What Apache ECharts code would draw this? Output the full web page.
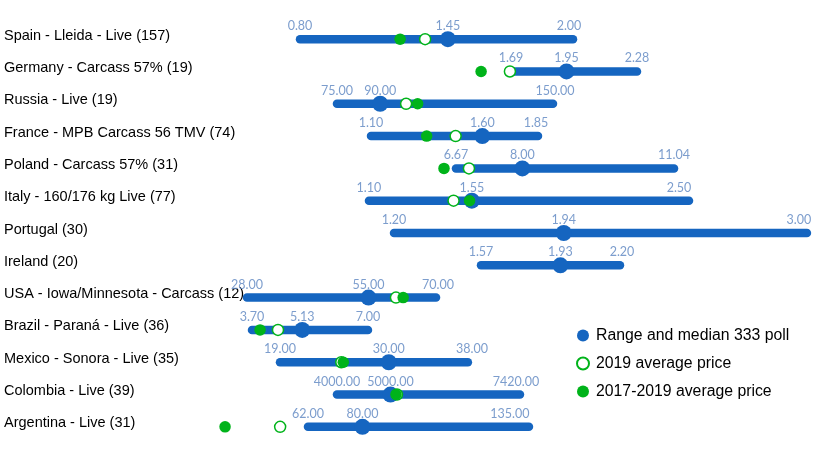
<!DOCTYPE html>
<html>
<head>
<meta charset="utf-8">
<style>html,body{margin:0;background:#fff}#chart{width:820px;height:475px}</style>
<script src="https://cdn.jsdelivr.net/npm/echarts@6/dist/echarts.min.js"></script>
</head>
<body>
<div id="chart"></div>
<script>
var markets = ['Spain - Lleida - Live (157)', 'Germany - Carcass 57% (19)', 'Russia - Live (19)', 'France - MPB Carcass 56 TMV (74)', 'Poland - Carcass 57% (31)', 'Italy - 160/176 kg Live (77)', 'Portugal (30)', 'Ireland (20)', 'USA - Iowa/Minnesota - Carcass (12)', 'Brazil - Paraná - Live (36)', 'Mexico - Sonora - Live (35)', 'Colombia - Live (39)', 'Argentina - Live (31)'];
var lows = [0.80, 1.69, 75, 1.10, 6.67, 1.10, 1.20, 1.57, 28, 3.70, 19, 4000, 62];
var medians = [1.45, 1.95, 90, 1.60, 8.00, 1.55, 1.94, 1.93, 55, 5.13, 30, 5000, 80];
var highs = [2.00, 2.28, 150, 1.85, 11.04, 2.50, 3.00, 2.20, 70, 7.00, 38, 7420, 135];
var avg2019 = [1.35, 1.685, 99, 1.48, 6.93, 1.47, null, null, 61.1, 4.44, 25.2, 5121, 52.8];
var avg1719 = [1.24, 1.55, 103, 1.35, 6.43, 1.54, null, null, 62.7, 3.93, 25.4, 5103, 34.6];
// every market has its own price scale, these are the ends of each hidden axis
var scaleMin = [-0.5187, -0.7023, -42.01, -0.5659, -2.468, -0.514, -0.5175, -0.6104, -26.89, -3.469, -9.31, -2299, -39.75];
var scaleMax = [3.0857, 3.1367, 242.71, 3.1162, 13.965, 3.073, 3.057, 3.1067, 155.33, 19.86, 73.6, 13028, 231.15];

var BLUE = '#1565c0', GREEN = '#00b31a', LABEL = '#5b85c0';
var NAME_RANGE = 'Range and median 333 poll', NAME_2019 = '2019 average price', NAME_1719 = '2017-2019 average price';
// the top labels of some bars sit left of the bar end in the original
var highLabelShift = [-4, 0, 2, -2, 0, -10, -8, 2, 2, 0, 4, -4, -19];

var xAxes = [], series = [];
markets.forEach(function(m, i) {
	xAxes.push({type: 'value', show: false, min: scaleMin[i], max: scaleMax[i]});
	// 范围条
	series.push({
		type: 'line', xAxisIndex: i, yAxisIndex: 0, z: 2, silent: true, symbol: 'none',
		lineStyle: {color: BLUE, width: 8.5, cap: 'round'},
		data: [[lows[i], i], [highs[i], i]]
	});
	series.push({
		name: NAME_RANGE, type: 'scatter', xAxisIndex: i, yAxisIndex: 0, z: 3,
		symbolSize: 16, itemStyle: {color: BLUE, opacity: 1},
		data: [[medians[i], i]]
	});
	if (avg2019[i] !== null) {
		series.push({
			name: NAME_2019, type: 'scatter', xAxisIndex: i, yAxisIndex: 0, z: 4,
			symbolSize: 11, itemStyle: {color: '#fff', borderColor: GREEN, borderWidth: 1.5, opacity: 1},
			data: [[avg2019[i], i]]
		});
		series.push({
			name: NAME_1719, type: 'scatter', xAxisIndex: i, yAxisIndex: 0, z: 5,
			symbolSize: 11.5, itemStyle: {color: GREEN, opacity: 1},
			data: [[avg1719[i], i]]
		});
	}
	// 数值标签
	series.push({
		type: 'scatter', xAxisIndex: i, yAxisIndex: 0, z: 6, silent: true,
		symbolSize: 1, itemStyle: {color: 'transparent'},
		label: {
			show: true, position: 'top', distance: 6,
			color: LABEL, fontFamily: 'Lato', fontSize: 12.5,
			formatter: function(p) { return p.value[0].toFixed(2); }
		},
		data: [
			[lows[i], i],
			[medians[i], i],
			{value: [highs[i], i], label: {offset: [highLabelShift[i], 0]}}
		]
	});
});

var myChart = echarts.init(document.getElementById('chart'));
myChart.setOption({
	animation: false,
	backgroundColor: '#fff',
	grid: {left: 0, right: 0, top: 23, bottom: 32},
	xAxis: xAxes,
	yAxis: {
		type: 'category', inverse: true, data: markets,
		axisLine: {show: false}, axisTick: {show: false}, splitLine: {show: false},
		axisLabel: {
			inside: true, align: 'left', margin: 4, interval: 0,
			color: '#000', fontFamily: 'Liberation Sans', fontSize: 14.5,
			verticalAlign: 'bottom', lineHeight: 7
		}
	},
	legend: {
		left: 576, top: 327.5, orient: 'vertical', padding: 0,
		itemWidth: 12, itemHeight: 12, itemGap: 12, icon: 'circle',
		textStyle: {color: '#000', fontFamily: 'Liberation Sans', fontSize: 15.8, padding: [0, 0, 6, 2]},
		data: [NAME_RANGE, NAME_2019, NAME_1719]
	},
	series: series
});
</script>
</body>
</html>
